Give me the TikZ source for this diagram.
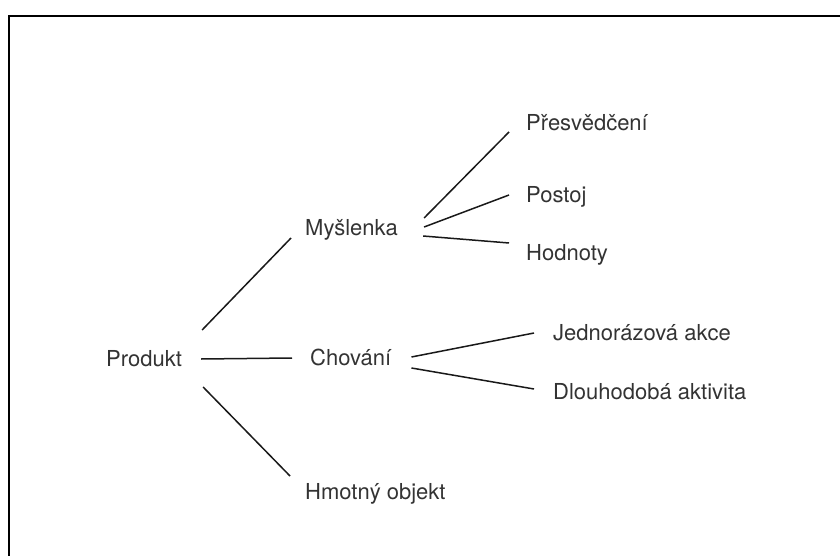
\documentclass[tikz,border=0pt]{standalone}
\usepackage{fontspec}
\setmainfont{TeX Gyre Heros}

\begin{document}
\begin{tikzpicture}[x=1pt,y=-1pt,
    lbl/.style={anchor=west,inner sep=0pt,text height=15.8pt,text depth=0pt,
      font=\fontsize{22}{26}\selectfont,text=black!80},
    branch/.style={line width=1.5pt,black!90}]
  \useasboundingbox (0,0) rectangle (840,556);
  % frame, only top and left edge are seen
  \draw[line width=2pt] (9,560) -- (9,16) -- (845,16);
  % the words
  \node[lbl] (Prod) at (106,359) {Produkt};
  \node[lbl] (Mysl) at (305,228) {Myšlenka};
  \node[lbl] (Chov) at (310,358) {Chování};
  \node[lbl] (Hmot) at (305,492) {Hmotný objekt};
  \node[lbl] (Pres) at (526,123) {Přesvědčení};
  \node[lbl] (Post) at (526,195) {Postoj};
  \node[lbl] (Hodn) at (526,253) {Hodnoty};
  \node[lbl] (Jedn) at (553,333) {Jednorázová akce};
  \node[lbl] (Dlou) at (553,392) {Dlouhodobá aktivita};
  % first level
  \draw[branch] ([xshift=20pt,yshift=29pt]Prod.east) -- ([xshift=-14pt,yshift=-10pt]Mysl.west);
  \draw[branch] ([xshift=19pt]Prod.east) -- ([xshift=-18pt]Chov.west);
  \draw[branch] ([xshift=21pt,yshift=-28pt]Prod.east) -- ([xshift=-15pt,yshift=16pt]Hmot.west);
  % second level
  \draw[branch] ([xshift=26pt,yshift=10pt]Mysl.east) -- ([xshift=-17pt,yshift=-9pt]Pres.west);
  \draw[branch] ([xshift=26pt,yshift=1pt]Mysl.east) -- ([xshift=-17pt]Post.west);
  \draw[branch] ([xshift=25pt,yshift=-8pt]Mysl.east) -- ([xshift=-17pt,yshift=10pt]Hodn.west);
  \draw[branch] ([xshift=20pt,yshift=1pt]Chov.east) -- ([xshift=-19pt]Jedn.west);
  \draw[branch] ([xshift=20pt,yshift=-10pt]Chov.east) -- ([xshift=-19pt,yshift=3pt]Dlou.west);
\end{tikzpicture}
\end{document}
